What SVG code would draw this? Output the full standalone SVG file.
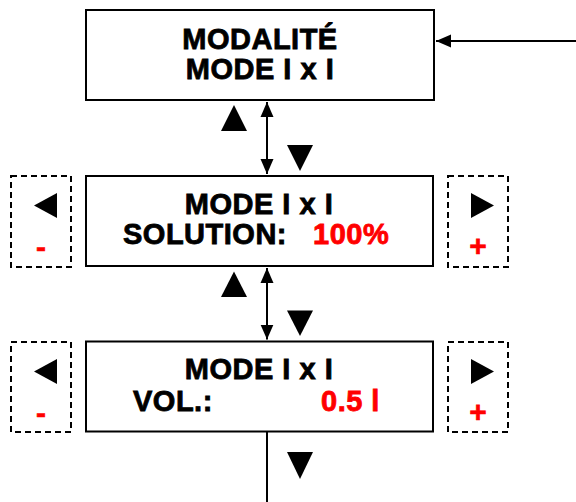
<svg xmlns="http://www.w3.org/2000/svg" width="576" height="502" viewBox="0 0 576 502">
  <style>
    .box { fill: #ffffff; stroke: #000000; stroke-width: 2; }
    .dash { fill: none; stroke: #000000; stroke-width: 2; stroke-dasharray: 6 4; }
    .t { font-family: "Liberation Sans", Arial, sans-serif; font-weight: bold; font-size: 29px; letter-spacing: 0.5px; fill: #000000; stroke: #000000; stroke-width: 0.8; }
    .c { text-anchor: middle; }
    .red { fill: #ff0000; stroke: #ff0000; }
    .pm { font-family: "Liberation Sans", Arial, sans-serif; font-weight: bold; font-size: 30px; fill: #ff0000; stroke: #ff0000; stroke-width: 0.6; text-anchor: middle; }
    .wire { fill: none; stroke: #000000; stroke-width: 2; }
    .tri { fill: #000000; }
  </style>
  <defs>
    <marker id="ah" markerUnits="userSpaceOnUse" markerWidth="16" markerHeight="14" refX="15" refY="7" orient="auto-start-reverse">
      <path d="M0,0.5 L15,7 L0,13.5 z" fill="#000000"/>
    </marker>
  </defs>

  <g id="connectors">
    <line class="wire" x1="576" y1="41" x2="436" y2="41" marker-end="url(#ah)"/>
    <line class="wire" x1="267" y1="102" x2="267" y2="174" marker-start="url(#ah)" marker-end="url(#ah)"/>
    <line class="wire" x1="267" y1="268" x2="267" y2="339.5" marker-start="url(#ah)" marker-end="url(#ah)"/>
    <line class="wire" x1="267" y1="432" x2="267" y2="502"/>
  </g>

  <g id="nav-symbols">
    <polygon class="tri" points="234,105 221,131 247,131"/>
    <polygon class="tri" points="287,145 313,145 300,171"/>
    <polygon class="tri" points="234,271.5 221,297 247,297"/>
    <polygon class="tri" points="287,310.5 313,310.5 300,336"/>
    <polygon class="tri" points="287,452 313,452 300,479"/>
  </g>

  <g id="modalite">
    <rect class="box" x="86" y="10" width="348" height="90"/>
    <text class="t c" x="260" y="49">MODALITÉ</text>
    <text class="t c" x="260" y="79">MODE I x I</text>
  </g>

  <g id="solution">
    <rect class="box" x="86" y="176" width="347" height="90"/>
    <text class="t c" x="259" y="214">MODE I x I</text>
    <text class="t" x="123" y="244">SOLUTION:</text>
    <text class="t red" x="313" y="244">100%</text>
  </g>

  <g id="solution-minus">
    <rect class="dash" x="11" y="176" width="60" height="91"/>
    <polygon class="tri" points="34,205.5 57,193 57,218"/>
    <text class="pm" x="41" y="257">-</text>
  </g>

  <g id="solution-plus">
    <rect class="dash" x="448" y="176" width="60" height="91"/>
    <polygon class="tri" points="494,205.5 471,193 471,218"/>
    <text class="pm" x="478" y="256">+</text>
  </g>

  <g id="volume">
    <rect class="box" x="86" y="341.5" width="347" height="90"/>
    <text class="t c" x="259" y="379">MODE I x I</text>
    <text class="t" x="133" y="411">VOL.:</text>
    <text class="t red" x="321" y="411">0.5 l</text>
  </g>

  <g id="volume-minus">
    <rect class="dash" x="11" y="342" width="60" height="90"/>
    <polygon class="tri" points="34,371.5 57,359 57,384"/>
    <text class="pm" x="41" y="423">-</text>
  </g>

  <g id="volume-plus">
    <rect class="dash" x="448" y="342" width="60" height="90"/>
    <polygon class="tri" points="494,371.5 471,359 471,384"/>
    <text class="pm" x="478" y="422">+</text>
  </g>
</svg>
